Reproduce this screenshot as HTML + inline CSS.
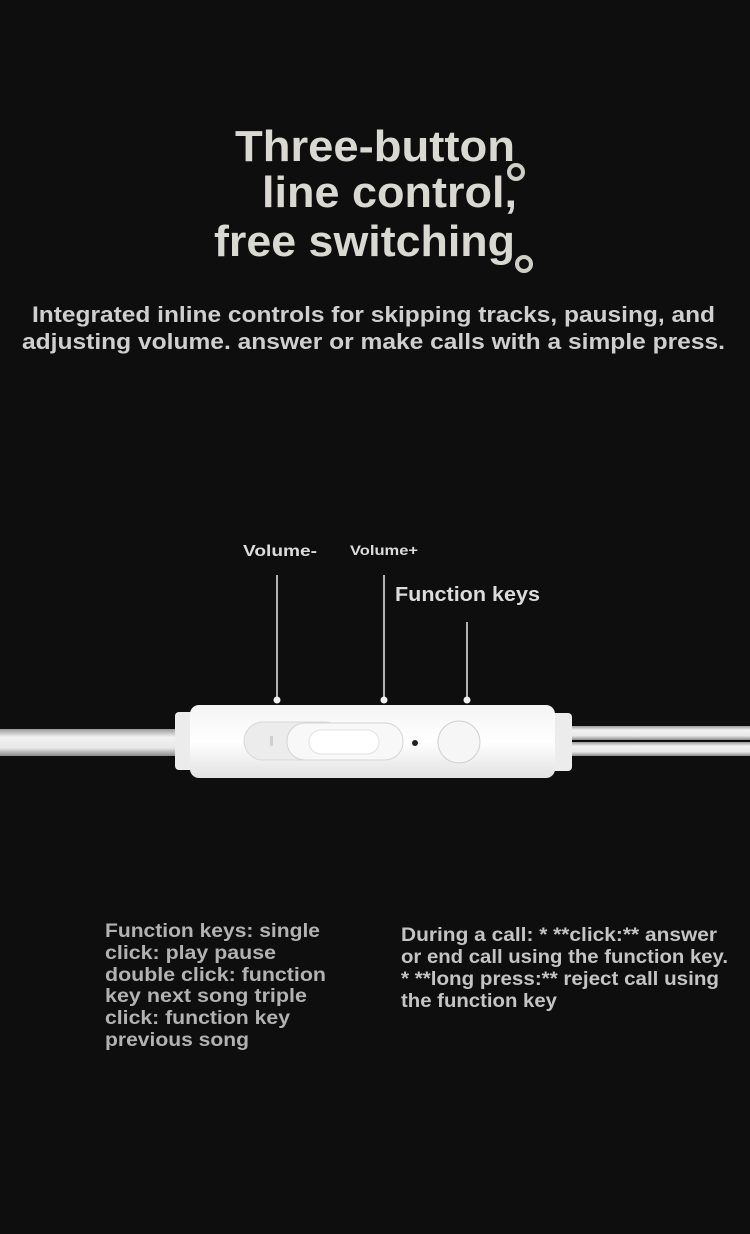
<!DOCTYPE html>
<html><head><meta charset="utf-8"><style>
html,body{margin:0;padding:0;background:#0e0e0e;}
svg{display:block}
text{font-family:"Liberation Sans",sans-serif;font-weight:bold;}
</style></head><body>
<svg width="750" height="1234" viewBox="0 0 750 1234" xmlns="http://www.w3.org/2000/svg">
<defs>
<linearGradient id="cab" x1="0" y1="0" x2="0" y2="1">
<stop offset="0" stop-color="#9a9a9a"/><stop offset="0.3" stop-color="#f2f2f2"/><stop offset="0.7" stop-color="#e8e8e8"/><stop offset="1" stop-color="#8a8a8a"/>
</linearGradient>
<linearGradient id="body" x1="0" y1="0" x2="0" y2="1">
<stop offset="0" stop-color="#f4f4f4"/><stop offset="0.5" stop-color="#ffffff"/><stop offset="1" stop-color="#e2e2e2"/>
</linearGradient>
</defs>
<rect width="750" height="1234" fill="#0e0e0e"/>
<g fill="#d9d9d1">
<text x="235" y="161" font-size="44" textLength="280" lengthAdjust="spacingAndGlyphs">Three-button</text>
<text x="262" y="207" font-size="44" textLength="255" lengthAdjust="spacingAndGlyphs">line control,</text>
<text x="214" y="256" font-size="44" textLength="301" lengthAdjust="spacingAndGlyphs">free switching</text>
</g>
<circle cx="516" cy="172" r="7" fill="none" stroke="#cfcfc8" stroke-width="4"/>
<circle cx="524" cy="264" r="7" fill="none" stroke="#cfcfc8" stroke-width="4"/>
<g fill="#cfcfcf">
<text x="32" y="322" font-size="22" textLength="683" lengthAdjust="spacingAndGlyphs">Integrated inline controls for skipping tracks, pausing, and</text>
<text x="22" y="349" font-size="22" textLength="703" lengthAdjust="spacingAndGlyphs">adjusting volume. answer or make calls with a simple press.</text>
</g>
<g fill="#dcdcdc">
<text x="243" y="556" font-size="16" textLength="74" lengthAdjust="spacingAndGlyphs">Volume-</text>
<text x="350" y="555" font-size="14" textLength="68" lengthAdjust="spacingAndGlyphs">Volume+</text>
<text x="395" y="601" font-size="20" textLength="145" lengthAdjust="spacingAndGlyphs">Function keys</text>
</g>
<g stroke="#e8e8e8" stroke-width="1.5">
<line x1="277" y1="575" x2="277" y2="700"/>
<line x1="384" y1="575" x2="384" y2="700"/>
<line x1="467" y1="622" x2="467" y2="700"/>
</g>
<g fill="#f0f0f0"><circle cx="277" cy="700" r="3.5"/><circle cx="384" cy="700" r="3.5"/><circle cx="467" cy="700" r="3.5"/></g>
<!-- cable -->
<rect x="0" y="729" width="180" height="27" fill="url(#cab)"/>
<rect x="565" y="726" width="185" height="14" fill="url(#cab)"/>
<rect x="565" y="742" width="185" height="14" fill="url(#cab)"/>
<!-- end caps -->
<rect x="175" y="712" width="22" height="58" rx="4" fill="#ececec"/>
<rect x="550" y="713" width="22" height="58" rx="4" fill="#ececec"/>
<!-- body -->
<rect x="190" y="705" width="365" height="73" rx="9" fill="url(#body)"/>
<rect x="244" y="722" width="100" height="38" rx="19" fill="#ececec" stroke="#d8d8d8"/>
<rect x="287" y="723" width="116" height="37" rx="18" fill="#f8f8f8" stroke="#d4d4d4"/>
<rect x="309" y="730" width="70" height="24" rx="12" fill="#ffffff" stroke="#e2e2e2"/>
<rect x="270" y="736" width="3" height="10" fill="#cfcfcf"/>
<circle cx="415" cy="743" r="3" fill="#222"/>
<circle cx="459" cy="742" r="21" fill="#f6f6f6" stroke="#d0d0d0"/>
<g fill="#b2b2b2">
<text x="105" y="937" font-size="19" textLength="215" lengthAdjust="spacingAndGlyphs">Function keys: single</text>
<text x="105" y="959" font-size="19" textLength="171" lengthAdjust="spacingAndGlyphs">click: play pause</text>
<text x="105" y="981" font-size="19" textLength="221" lengthAdjust="spacingAndGlyphs">double click: function</text>
<text x="105" y="1002" font-size="19" textLength="202" lengthAdjust="spacingAndGlyphs">key next song triple</text>
<text x="105" y="1024" font-size="19" textLength="185" lengthAdjust="spacingAndGlyphs">click: function key</text>
<text x="105" y="1046" font-size="19" textLength="144" lengthAdjust="spacingAndGlyphs">previous song</text>
</g>
<g fill="#c4c4c4">
<text x="401" y="941" font-size="19" textLength="316" lengthAdjust="spacingAndGlyphs">During a call: * **click:** answer</text>
<text x="401" y="963" font-size="19" textLength="327" lengthAdjust="spacingAndGlyphs">or end call using the function key.</text>
<text x="401" y="985" font-size="19" textLength="318" lengthAdjust="spacingAndGlyphs">* **long press:** reject call using</text>
<text x="401" y="1007" font-size="19" textLength="156" lengthAdjust="spacingAndGlyphs">the function key</text>
</g>
</svg>
</body></html>
